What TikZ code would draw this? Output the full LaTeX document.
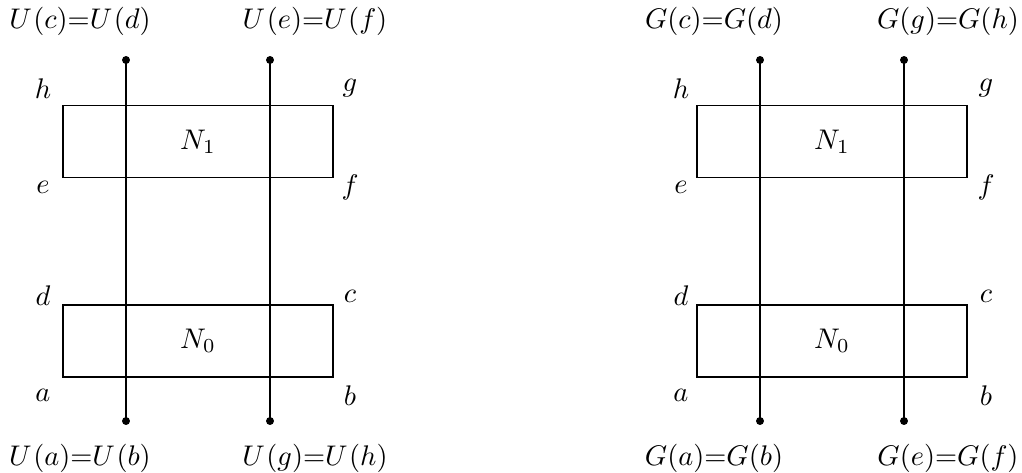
\documentclass[tikz,border=0pt]{standalone}
\begin{document}
\begin{tikzpicture}[x=0.3522pt,y=-0.3522pt,
  blk/.style={draw,line width=0.5pt,minimum width=95.1pt,minimum height=25.5pt,inner sep=0pt},
  wire/.style={line width=0.5pt},
  enddot/.style={circle,fill,inner sep=0pt,minimum size=2.8pt},
  lbl/.style={inner sep=0pt}]
\useasboundingbox (0,0) rectangle (1022,473);
% ---------- left panel ----------
\node[blk] (LN1) at (198,141.5) {$N_1$};
\node[blk] (LN0) at (198,341) {$N_0$};
\node[enddot] (Lt1) at (126,60) {};
\node[enddot] (Lb1) at (126,421) {};
\node[enddot] (Lt2) at (270,60) {};
\node[enddot] (Lb2) at (270,421) {};
\draw[wire] (Lt1.center) -- (Lb1.center);
\draw[wire] (Lt2.center) -- (Lb2.center);
\node[lbl] (Lh) at (43,89) {$h$};
\node[lbl] (Lg) at (350,88) {$g$};
\node[lbl] (Le) at (43,187) {$e$};
\node[lbl] (Lf) at (350,187) {$f$};
\node[lbl] (Ld) at (43,296) {$d$};
\node[lbl] (Lc) at (350,296) {$c$};
\node[lbl] (La) at (43,395) {$a$};
\node[lbl] (Lb) at (350,396) {$b$};
\node[lbl] (LT1) at (80,21) {$U\mkern1mu(c){=}U\mkern1mu(d)$};
\node[lbl] (LT2) at (315,21) {$U\mkern1mu(e){=}U\mkern1mu(f)$};
\node[lbl] (LB1) at (80,458) {$U\mkern1mu(a){=}U\mkern1mu(b)$};
\node[lbl] (LB2) at (315,458) {$U\mkern1mu(g){=}U\mkern1mu(h)$};
% ---------- right panel ----------
\begin{scope}[shift={(634,0)}]
\node[blk] (RN1) at (198,141.5) {$N_1$};
\node[blk] (RN0) at (198,341) {$N_0$};
\node[enddot] (Rt1) at (126,60) {};
\node[enddot] (Rb1) at (126,421) {};
\node[enddot] (Rt2) at (270,60) {};
\node[enddot] (Rb2) at (270,421) {};
\draw[wire] (Rt1.center) -- (Rb1.center);
\draw[wire] (Rt2.center) -- (Rb2.center);
\node[lbl] (Rh) at (47,89) {$h$};
\node[lbl] (Rg) at (352,88) {$g$};
\node[lbl] (Re) at (47,187) {$e$};
\node[lbl] (Rf) at (352,187) {$f$};
\node[lbl] (Rd) at (47,296) {$d$};
\node[lbl] (Rc) at (352,296) {$c$};
\node[lbl] (Ra) at (47,395) {$a$};
\node[lbl] (Rb) at (352,396) {$b$};
\node[lbl] (RT1) at (80,21) {$G(c){=}G(d)$};
\node[lbl] (RT2) at (314,21) {$G(g){=}G(h)$};
\node[lbl] (RB1) at (80,458) {$G(a){=}G(b)$};
\node[lbl] (RB2) at (314,458) {$G(e){=}G(f)$};
\end{scope}
\end{tikzpicture}
\end{document}
